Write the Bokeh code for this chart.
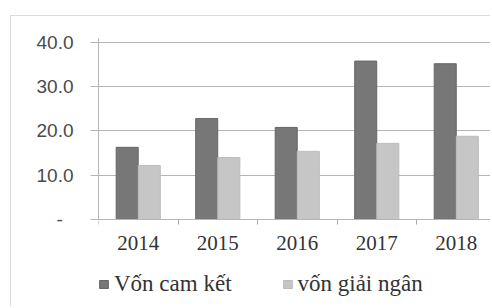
from bokeh.plotting import figure
from bokeh.models import ColumnDataSource, FixedTicker, Range1d, Legend, LegendItem
from bokeh.transform import dodge
from bokeh.embed import file_html
from bokeh.resources import INLINE

years = ["2014", "2015", "2016", "2017", "2018"]
von_cam_ket = [16.3, 22.8, 20.8, 35.8, 35.2]
von_giai_ngan = [12.2, 14.0, 15.4, 17.2, 18.8]
y_ticks = [0, 10, 20, 30, 40]
y_tick_labels = ["-\u00a0\u00a0", "10.0", "20.0", "30.0", "40.0"]

pos = [i + 0.5 for i in range(len(years))]
src = ColumnDataSource(dict(x=pos, a=von_cam_ket, b=von_giai_ngan))

p = figure(width=480, height=291, output_backend="svg", toolbar_location=None,
           x_range=Range1d(0, 4.943), y_range=Range1d(-19.9, 40.9),
           min_border_left=87, min_border_right=0, min_border_top=22, min_border_bottom=0)
p.outline_line_color = None
p.background_fill_color = "white"
p.border_fill_color = "white"
p.styles = {"border-left": "1px solid #dcdcdc", "border-top": "1px solid #dcdcdc",
            "margin-left": "10px", "margin-top": "15px"}

r1 = p.vbar(x=dodge("x", -0.139, range=p.x_range), top="a", width=0.277, bottom=0,
            source=src, fill_color="#777777", line_color="#666666")
r2 = p.vbar(x=dodge("x", 0.139, range=p.x_range), top="b", width=0.277, bottom=0,
            source=src, fill_color="#c6c6c6", line_color="#bdbdbd")

# x axis, drawn at y = 0 inside the frame
p.xaxis.fixed_location = 0
p.xaxis.ticker = FixedTicker(ticks=pos, minor_ticks=[0, 1, 2, 3, 4])
p.xaxis.major_label_overrides = {pv: y for pv, y in zip(pos, years)}
p.xaxis.major_tick_line_color = None
p.xaxis.major_tick_out = 0
p.xaxis.minor_tick_out = 5
p.xaxis.minor_tick_in = 0
p.xaxis.minor_tick_line_color = "#aaaaaa"
p.xaxis.axis_line_color = "#b5b5b5"
p.xaxis.major_label_text_font = "Liberation Serif"
p.xaxis.major_label_text_font_size = "21px"
p.xaxis.major_label_text_color = "#333333"
p.xaxis.major_label_standoff = 12

# y axis
p.yaxis.bounds = (0, 40.9)
p.yaxis.ticker = FixedTicker(ticks=y_ticks)
p.yaxis.major_label_overrides = {t: s for t, s in zip(y_ticks, y_tick_labels)}
p.yaxis.major_tick_out = 8
p.yaxis.major_tick_in = 0
p.yaxis.major_tick_line_color = "#b5b5b5"
p.yaxis.minor_tick_line_color = None
p.yaxis.axis_line_color = "#b5b5b5"
p.yaxis.major_label_text_font = "Liberation Sans"
p.yaxis.major_label_text_font_size = "19px"
p.yaxis.major_label_text_color = "#4a4a4a"
p.yaxis.major_label_standoff = 17

p.xgrid.grid_line_color = None
p.ygrid.grid_line_color = "#b5b5b5"
p.ygrid.ticker = FixedTicker(ticks=[10, 20, 30, 40])

legend = Legend(items=[LegendItem(label="Vốn cam kết", renderers=[r1]),
                       LegendItem(label="vốn giải ngân", renderers=[r2])],
                orientation="horizontal", location=(0, 10),
                padding=0, margin=0, spacing=50, label_standoff=5,
                glyph_width=11, glyph_height=10,
                label_text_font="Liberation Serif", label_text_font_size="23px",
                label_text_color="#333333",
                background_fill_alpha=0, border_line_color=None)
p.add_layout(legend, "center")

open("out.html", "w").write(file_html(p, INLINE))
